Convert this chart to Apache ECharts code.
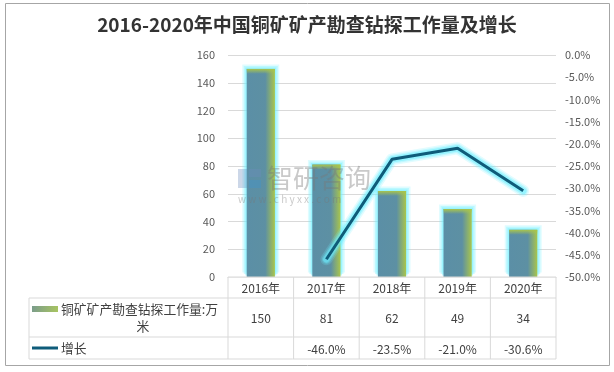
<!DOCTYPE html>
<html><head><meta charset="utf-8">
<script src="https://cdn.jsdelivr.net/npm/echarts@6/dist/echarts.min.js"></script>
<style>html,body{margin:0;padding:0;background:#fff}#c{width:614px;height:372px}</style>
</head><body><div id="c"></div>
<script>
const titleText = '2016-2020年中国铜矿矿产勘查钻探工作量及增长';
const categories = ['2016年','2017年','2018年','2019年','2020年'];
const workload = [150, 81, 62, 49, 34];
const growth = [null, -46.0, -23.5, -21.0, -30.6];
const workloadName = '铜矿矿产勘查钻探工作量:万米';
const growthName = '增长';

const FONT = '"Noto Sans CJK SC", "Noto Sans", sans-serif';
const LABEL = '#595959';
const GRIDC = '#d9d9d9';
const LINEC = '#0f5c7a';
const BW = '43%';

const chart = echarts.init(document.getElementById('c'), null, {renderer: 'canvas'});
const barGrad = new echarts.graphic.LinearGradient(0, 0, 1, 0, [
  {offset: 0, color: '#5b8fa6'},
  {offset: 0.66, color: '#5d90a3'},
  {offset: 1, color: '#a9c54c'}
]);
const capGrad = new echarts.graphic.LinearGradient(0, 0, 0, 1, [
  {offset: 0, color: 'rgba(169,197,76,1)'},
  {offset: 1, color: 'rgba(169,197,76,0)'}
]);
const halo = (w, a, z) => ({type: 'pictorialBar', data: workload, barWidth: BW, barGap: '-100%', yAxisIndex: 0, silent: true,
  symbol: 'rect', symbolSize: [w, '100%'], symbolPosition: 'start', symbolOffset: [0, -(w - 28) / 2], z: z,
  itemStyle: {color: 'rgba(110,240,255,' + a + ')'}});
const lineHalo = (w, a) => ({type: 'line', data: growth, yAxisIndex: 1, showSymbol: false, symbol: 'none', silent: true, z: 4,
  lineStyle: {color: 'rgba(110,240,255,' + a + ')', width: w, join: 'round', cap: 'round'}});
chart.setOption({
  animation: false,
  backgroundColor: '#fff',
  title: {text: titleText, left: 'center', top: 10,
    textStyle: {fontFamily: FONT, fontSize: 19, fontWeight: 'bold', color: '#333'}},
  grid: {left: 228, right: 58, top: 55, bottom: 95},
  xAxis: {type: 'category', data: categories, boundaryGap: true,
    axisLine: {show: true, lineStyle: {color: GRIDC}}, axisTick: {show: false}, axisLabel: {show: false}},
  yAxis: [
    {type: 'value', min: 0, max: 160, interval: 20,
      axisLine: {show: false}, axisTick: {show: false},
      splitLine: {lineStyle: {color: GRIDC}},
      axisLabel: {color: LABEL, fontFamily: FONT, fontSize: 11, margin: 13}},
    {type: 'value', min: -50, max: 0, interval: 5, position: 'right',
      axisLine: {show: false}, axisTick: {show: false}, splitLine: {show: false},
      axisLabel: {color: LABEL, fontFamily: FONT, fontSize: 11, margin: 9,
        formatter: v => v.toFixed(1) + '%'}}
  ],
  series: [
    halo(37, 0.22, 1),
    halo(34, 0.3, 1),
    halo(31, 0.45, 1),
    {name: workloadName, type: 'bar', data: workload, barWidth: BW, barGap: '-100%', yAxisIndex: 0, z: 2,
      itemStyle: {color: barGrad}},
    {type: 'pictorialBar', data: workload, barWidth: BW, barGap: '-100%', yAxisIndex: 0, silent: true,
      symbol: 'rect', symbolSize: ['100%', 5], symbolPosition: 'end', symbolOffset: [0, 0],
      itemStyle: {color: capGrad}, z: 3},
    lineHalo(12, 0.2),
    lineHalo(9, 0.3),
    lineHalo(6.5, 0.5),
    {name: growthName, type: 'line', data: growth, yAxisIndex: 1, showSymbol: false, symbol: 'none', z: 5,
      lineStyle: {color: LINEC, width: 3}}
  ]
});

// Data table built from the axis scale
const xs = categories.map((c, i) => chart.convertToPixel({xAxisIndex: 0}, i));
const band = xs[1] - xs[0];
const colL = xs.map(x => x - band / 2);
const xEnd = xs[xs.length - 1] + band / 2;
const y0 = chart.convertToPixel({yAxisIndex: 0}, 0);
const r1 = y0 + 21, r2 = r1 + 39, r3 = r2 + 22;
const tableLeft = 29;
const g = [];
const ln = (x1, y1, x2, y2) => g.push({type: 'line', shape: {x1, y1, x2, y2}, style: {stroke: GRIDC, lineWidth: 1}, silent: true, z: 20});
g.push({type: 'rect', shape: {x: 5.5, y: 3.5, width: 604, height: 362}, style: {fill: null, stroke: '#a6a6a6', lineWidth: 1}, z: -1});
g.push({type: 'rect', shape: {x: colL[0], y: y0 + 0.5, width: xEnd - colL[0], height: 8}, style: {fill: '#fff'}, z: 15});
ln(colL[0], y0, xEnd, y0);
ln(tableLeft, r1, xEnd, r1); ln(tableLeft, r2, xEnd, r2); ln(tableLeft, r3, xEnd, r3);
ln(tableLeft, r1, tableLeft, r3);
colL.forEach(x => ln(x, y0, x, r3));
ln(xEnd, y0, xEnd, r3);
const txt = (text, x, y, align, size) => g.push({type: 'text', x, y, z: 20,
  style: {text, fill: '#404040', font: (size || 12) + 'px ' + FONT, textAlign: align || 'center', textVerticalAlign: 'middle'}});
categories.forEach((c, i) => txt(c, xs[i], (y0 + r1) / 2 + 1));
workload.forEach((v, i) => txt(String(v), xs[i], (r1 + r2) / 2 + 1));
growth.forEach((v, i) => { if (v !== null) txt(v.toFixed(1) + '%', xs[i], (r2 + r3) / 2 + 1); });
g.push({type: 'rect', shape: {x: 32, y: r1 + 8, width: 26, height: 6},
  style: {fill: new echarts.graphic.LinearGradient(0, 0, 1, 1, [{offset: 0, color: '#7a9c8c'}, {offset: 1, color: '#a9c560'}])}});
g.push({type: 'line', shape: {x1: 32, y1: (r2 + r3) / 2, x2: 58, y2: (r2 + r3) / 2}, style: {stroke: LINEC, lineWidth: 3}});
txt(workloadName.slice(0, -1), 61, r1 + 11, 'left', 12.8);
txt(workloadName.slice(-1), 143, r1 + 28, 'center', 12.8);
txt(growthName, 61, (r2 + r3) / 2, 'left', 12.8);
// watermark
g.push({type: 'rect', shape: {x: 238, y: 169, width: 9, height: 19}, style: {fill: 'rgba(110,140,190,0.35)'}, z: 10});
g.push({type: 'rect', shape: {x: 249, y: 169, width: 12, height: 8}, style: {fill: 'rgba(110,140,190,0.35)'}, z: 10});
g.push({type: 'rect', shape: {x: 249, y: 180, width: 12, height: 8}, style: {fill: 'rgba(60,150,210,0.35)'}, z: 10});
g.push({type: 'text', x: 267, y: 178, z: 10, style: {text: '智研咨询', fill: 'rgba(120,120,120,0.4)', font: '26px ' + FONT, textVerticalAlign: 'middle'}});
g.push({type: 'text', x: 238, y: 199, z: 10, style: {text: 'w w w . c h y x x . c o m', fill: 'rgba(120,120,120,0.4)', font: '10px ' + FONT, textVerticalAlign: 'middle'}});
chart.setOption({graphic: g});
</script></body></html>
